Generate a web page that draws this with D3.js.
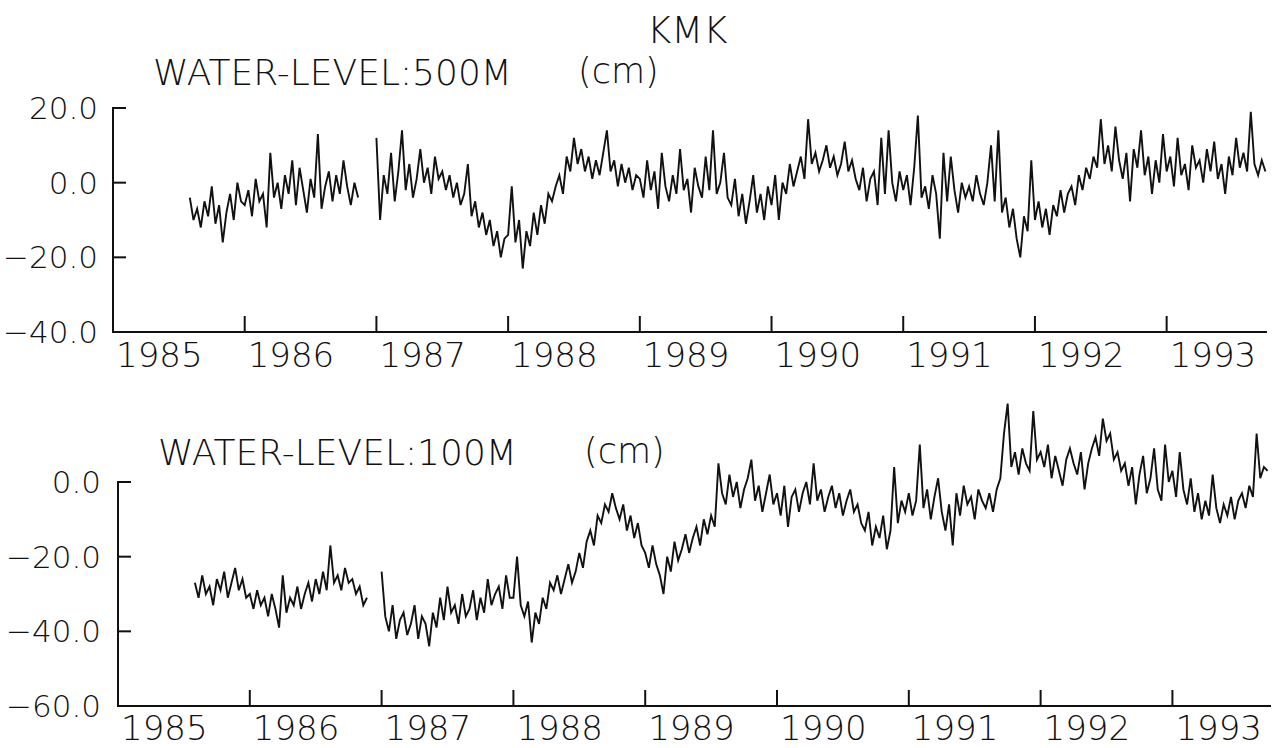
<!DOCTYPE html>
<html>
<head>
<meta charset="utf-8">
<script src="https://cdn.jsdelivr.net/npm/d3@7"></script>
<style>
  body { margin: 0; background: #fff; }
  text { font-family: "DejaVu Sans", sans-serif; font-weight: 200; fill: #111; }
</style>
</head>
<body>
<script>
// station / series titles
var station = "KMK";
var titles = ["WATER-LEVEL:500M", "WATER-LEVEL:100M"];
var unit = "(cm)";
var yearLabels = ["1985", "1986", "1987", "1988", "1989", "1990", "1991", "1992", "1993"];
var ticks500 = [20, 0, -20, -40];
var ticks100 = [0, -20, -40, -60];

// samples every 1/36 year, first sample at 1985 + 21/36; null = no data
var stepsPerYear = 36, firstStep = 21;

var wl500 = [
  // 1985
  -4, -10, -7, -12, -5, -9, -1, -11, -6, -16, -8, -3, -10, 0, -5,
  // 1986
  -6, -2, -9, 1, -5, -3, -12, 8, -4, 0, -7, 2,
  -3, 6, -6, 4, -2, -8, 1, -4, 13, -7, -1, 3,
  -5, 2, -3, 6, -1, -6, 0, -4, null, null, null, null,
  // 1987
  12, -10, 2, -3, 8, -5, 3, 14, -2, 5, -4, 1,
  9, 0, 4, -3, 7, 1, 3, -2, 2, -4, 0, -6,
  -3, 5, -9, -5, -12, -8, -14, -10, -17, -13, -20, -15,
  // 1988
  -14, -1, -16, -10, -23, -13, -17, -8, -14, -6, -11, -3,
  -5, -1, 2, -3, 7, 3, 12, 5, 9, 3, 7, 1,
  6, 2, 8, 14, 3, 6, -1, 5, 0, 4, -2, 2,
  // 1989
  1, -4, 6, -2, 3, -7, 8, -1, -5, 2, -3, 9,
  -2, 1, -8, 4, -1, -4, 7, -2, 14, -3, 0, 8,
  -4, -6, 1, -9, -3, -11, -5, 2, -8, -3, -10, -1,
  // 1990
  -6, 2, -10, 0, -3, 5, -1, 3, 7, 1, 17, 5,
  8, 3, 6, 10, 4, 7, 2, 5, 11, 3, 6, 1,
  -2, 4, -5, 1, 3, -6, 12, -3, 14, 0, -5, 3,
  // 1991
  -2, 2, -6, 4, 18, -4, -1, -7, 2, -3, -15, 8,
  -5, 7, -2, -8, 0, -4, -1, -5, 2, -3, -6, 0,
  10, -5, 14, -8, -4, -12, -7, -15, -20, -9, -13, 6,
  // 1992
  -10, -5, -12, -7, -14, -6, -9, -2, -8, -3, -1, -6,
  2, -2, 4, 1, 7, 4, 17, 5, 10, 3, 15, 6,
  1, 8, -5, 9, 4, 14, 2, 7, -3, 6, 0, 13,
  // 1993
  3, 7, -1, 12, 2, 5, -2, 10, 4, 6, 0, 9,
  3, 11, 1, 5, -3, 7, 2, 12, 4, 8, 3, 19,
  5, 2, 6, 3
];

var wl100 = [
  // 1985
  -27, -31, -25, -30, -28, -33, -26, -29, -24, -31, -27, -23, -29, -26, -31,
  // 1986
  -30, -34, -29, -33, -31, -36, -30, -34, -39, -25, -35, -31,
  -33, -28, -34, -30, -27, -32, -26, -30, -24, -29, -17, -27,
  -25, -29, -23, -27, -26, -30, -28, -33, -31, null, null, null,
  // 1987
  -24, -36, -40, -33, -42, -37, -35, -41, -38, -33, -42, -36,
  -38, -44, -35, -39, -31, -37, -28, -35, -33, -38, -30, -36,
  -34, -29, -37, -31, -35, -26, -33, -30, -28, -34, -25, -31,
  // 1988
  -31, -20, -33, -36, -32, -43, -35, -38, -31, -34, -27, -29,
  -25, -30, -26, -22, -27, -24, -19, -23, -16, -13, -17, -9,
  -11, -6, -8, -3, -7, -10, -6, -13, -9, -15, -11, -17,
  // 1989
  -19, -23, -17, -22, -25, -30, -20, -24, -16, -21, -18, -14,
  -19, -15, -12, -17, -10, -14, -9, -12, 5, -3, -6, 2,
  -4, 0, -7, -2, 1, 6, -5, -1, -8, -3, 2, -6,
  // 1990
  -3, -9, -1, -12, -4, -2, -8, -3, 0, -6, 5, -5,
  -2, -8, -4, -1, -7, -3, -9, -5, -2, -8, -6, -11,
  -13, -8, -17, -12, -15, -9, -18, -13, 4, -11, -5, -8,
  // 1991
  -3, -9, -5, 10, -7, -2, -10, -4, 1, -8, -13, -6,
  -17, -3, -9, -1, -6, -4, -10, -2, -5, -7, -3, -8,
  -2, 1, 13, 21, 4, 8, 2, 9, 5, 3, 19, 6,
  // 1992
  8, 4, 10, 1, 7, 3, -1, 6, 9, 5, 2, 8,
  -2, 5, 9, 12, 7, 17, 11, 13, 6, 8, 3, 5,
  -1, 4, -6, 2, 7, -3, 1, 9, -2, -5, 10, 0,
  // 1993
  3, -4, 8, -2, -6, 1, -8, -3, -10, -5, -9, 2,
  -7, -11, -6, -9, -4, -10, -5, -3, -7, -1, -4, 13,
  1, 4, 3
];

var svg = d3.select("body").append("svg")
    .attr("width", 1274)
    .attr("height", 748);

svg.append("text").attr("x", 647).attr("y", 43).text(station).style("font-size", "37px");

function drawPanel(p) {
  var x = d3.scaleLinear().domain([1985, p.xEnd]).range([p.left, p.right]);
  var y = d3.scaleLinear().domain([p.ticks[p.ticks.length - 1], p.ticks[0]]).range([p.bottom, p.top]);
  var g = svg.append("g");

  g.append("text").attr("x", p.left + 40).attr("y", p.titleY).text(p.title).style("font-size", "36px");
  g.append("text").attr("x", p.unitX).attr("y", p.titleY - 2).text(unit).style("font-size", "35px");

  // axes drawn like the plotter: bracket y axis, inward ticks
  g.append("path")
    .attr("d", "M" + (p.left + 13) + "," + y(p.ticks[0]) + "H" + p.left + "V" + p.bottom + "H" + p.right)
    .style("fill", "none").style("stroke", "#111").style("stroke-width", 2);

  p.ticks.forEach(function(t) {
    g.append("line").attr("x1", p.left).attr("x2", p.left + 13).attr("y1", y(t)).attr("y2", y(t))
      .style("stroke", "#111").style("stroke-width", 2);
    g.append("text").attr("x", p.labelX).attr("y", y(t)).attr("text-anchor", "end")
      .attr("dominant-baseline", "central")
      .text(d3.format(".1f")(t)).style("font-size", "31px");
  });

  yearLabels.forEach(function(lab, i) {
    var yr = +lab;
    if (i > 0) {
      g.append("line").attr("x1", x(yr)).attr("x2", x(yr)).attr("y1", p.bottom).attr("y2", p.bottom - 16)
        .style("stroke", "#111").style("stroke-width", 2);
    }
    g.append("text").attr("x", x(yr) + 3).attr("y", p.yearY).text(lab).style("font-size", "34px");
  });

  var pts = p.values.map(function(v, i) {
    return { t: 1985 + (firstStep + i) / stepsPerYear, v: v };
  });
  var line = d3.line()
    .defined(function(d) { return d.v !== null; })
    .x(function(d) { return x(d.t); })
    .y(function(d) { return y(d.v); });
  g.append("path").datum(pts).attr("d", line)
    .style("fill", "none").style("stroke", "#111").style("stroke-width", 1.9)
    .style("stroke-linejoin", "miter");
}

drawPanel({ values: wl500, ticks: ticks500, title: titles[0], left: 113, right: 1267, xEnd: 1993.762,
            top: 108, bottom: 332, titleY: 85, unitX: 578, labelX: 98, yearY: 367 });
drawPanel({ values: wl100, ticks: ticks100, title: titles[1], left: 118, right: 1271, xEnd: 1993.748,
            top: 482, bottom: 706, titleY: 465, unitX: 584, labelX: 101, yearY: 740 });
</script>
</body>
</html>
